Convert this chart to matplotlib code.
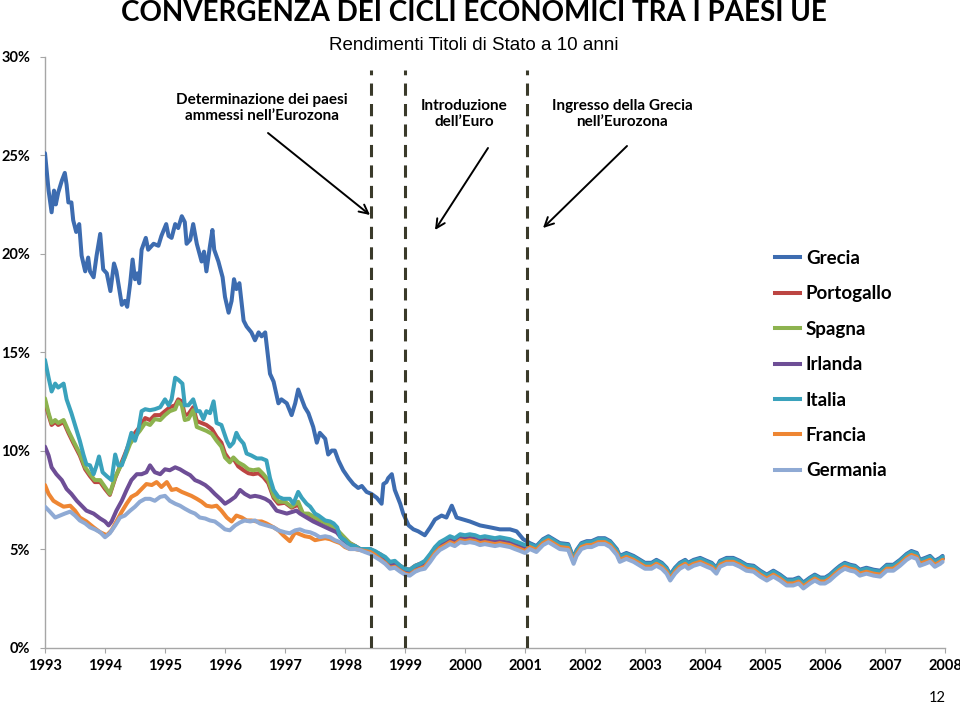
import matplotlib
matplotlib.use("Agg")
import matplotlib.pyplot as plt
from matplotlib.lines import Line2D

plt.rcParams['font.family'] = ['Lato', 'DejaVu Sans']

# ---------------- data (10-year government bond yields, %) ----------------
years = list(range(1993, 2009))
y_ticks = [0, 5, 10, 15, 20, 25, 30]
countries = ["Grecia", "Portogallo", "Spagna", "Irlanda", "Italia", "Francia", "Germania"]
colors = ["#3D6CB0", "#BC4542", "#8DB34F", "#6E4E96", "#3AA2BC", "#EE8633", "#8FAAD4"]

events = [1998.43, 1999.0, 2001.03]

# Greece until 2001
gr_t = [1993.0, 1993.06, 1993.11, 1993.15, 1993.18, 1993.22, 1993.28, 1993.33, 1993.36, 1993.39,
        1993.44, 1993.47, 1993.52, 1993.57, 1993.61, 1993.67, 1993.72, 1993.75, 1993.81, 1993.86,
        1993.92, 1993.97, 1994.03, 1994.09, 1994.15, 1994.19, 1994.28, 1994.33, 1994.37, 1994.42,
        1994.46, 1994.5, 1994.54, 1994.57, 1994.61, 1994.68, 1994.72, 1994.81, 1994.89, 1994.94,
        1995.02, 1995.06, 1995.11, 1995.17, 1995.22, 1995.28, 1995.33, 1995.36, 1995.42, 1995.47,
        1995.53, 1995.61, 1995.65, 1995.69, 1995.75, 1995.79, 1995.82, 1995.89, 1995.96, 1996.0,
        1996.06, 1996.11, 1996.15, 1996.19, 1996.24, 1996.31, 1996.36, 1996.44, 1996.5, 1996.56,
        1996.61, 1996.67, 1996.75, 1996.81, 1996.89, 1996.94, 1997.03, 1997.11, 1997.17, 1997.22,
        1997.28, 1997.33, 1997.39, 1997.47, 1997.53, 1997.58, 1997.67, 1997.72, 1997.78, 1997.83,
        1997.89, 1997.97, 1998.06, 1998.14, 1998.22, 1998.28, 1998.36, 1998.44, 1998.53, 1998.61,
        1998.64, 1998.69, 1998.72, 1998.78, 1998.83, 1998.92, 1998.97, 1999.06, 1999.14, 1999.22,
        1999.33, 1999.42, 1999.5, 1999.61, 1999.69, 1999.78, 1999.86, 1999.97, 2000.08, 2000.25,
        2000.42, 2000.58, 2000.75, 2000.86, 2000.97]
gr_v = [25.1, 23.2, 22.1, 23.2, 22.5, 23.1, 23.7, 24.1, 23.5, 22.6,
        22.6, 21.7, 21.1, 21.5, 19.9, 19.1, 19.8, 19.1, 18.8, 19.9,
        21.0, 19.2, 19.0, 18.1, 19.5, 19.1, 17.4, 17.6, 17.3, 18.5,
        19.7, 18.7, 19.0, 18.5, 20.2, 20.8, 20.2, 20.5, 20.4, 20.9,
        21.5, 20.9, 20.8, 21.5, 21.3, 21.9, 21.6, 20.5, 20.7, 21.5,
        20.5, 19.6, 20.1, 19.1, 20.4, 21.2, 20.2, 19.6, 18.8, 17.8,
        17.0, 17.6, 18.7, 18.2, 18.5, 16.6, 16.3, 16.0, 15.6, 16.0,
        15.8, 16.0, 13.9, 13.5, 12.4, 12.6, 12.4, 11.8, 12.4, 13.1,
        12.6, 12.2, 11.9, 11.2, 10.4, 10.9, 10.6, 9.8, 10.0, 10.0,
        9.5, 9.0, 8.6, 8.3, 8.1, 8.2, 7.9, 7.8, 7.6, 7.3,
        8.3, 8.4, 8.6, 8.8, 8.0, 7.3, 6.8, 6.2, 6.0, 5.9,
        5.7, 6.1, 6.5, 6.7, 6.6, 7.2, 6.6, 6.5, 6.4, 6.2,
        6.1, 6.0, 6.0, 5.9, 5.5]

it_t = [1993.0, 1993.06, 1993.11, 1993.17, 1993.22, 1993.31, 1993.36, 1993.44, 1993.53, 1993.58,
        1993.64, 1993.69, 1993.75, 1993.81, 1993.86, 1993.9, 1993.96, 1994.03, 1994.11, 1994.17,
        1994.22, 1994.28, 1994.36, 1994.44, 1994.5, 1994.56, 1994.61, 1994.67, 1994.75, 1994.83,
        1994.92, 1995.0, 1995.06, 1995.11, 1995.17, 1995.22, 1995.29, 1995.33, 1995.39, 1995.47,
        1995.53, 1995.58, 1995.64, 1995.69, 1995.75, 1995.81, 1995.86, 1995.94, 1996.03, 1996.08,
        1996.14, 1996.19, 1996.24, 1996.31, 1996.36, 1996.44, 1996.53, 1996.61, 1996.69, 1996.75,
        1996.81, 1996.89, 1996.97, 1997.08, 1997.14, 1997.22, 1997.28, 1997.36, 1997.42, 1997.5,
        1997.56, 1997.67, 1997.75, 1997.81, 1997.87, 1997.92, 1998.0, 1998.08, 1998.17, 1998.25,
        1998.33]
it_v = [14.6, 13.7, 13.0, 13.4, 13.2, 13.4, 12.6, 11.9, 11.0, 10.5,
        9.8, 9.3, 9.25, 8.8, 9.25, 9.7, 8.9, 8.7, 8.5, 9.8,
        9.25, 9.25, 10.0, 10.9, 10.5, 11.1, 12.0, 12.1, 12.05, 12.1,
        12.2, 12.6, 12.3, 12.6, 13.7, 13.6, 13.4, 12.3, 12.3, 12.6,
        12.0, 12.0, 11.6, 12.0, 11.9, 12.5, 11.4, 11.3, 10.5, 10.2,
        10.4, 10.9, 10.6, 10.35, 9.85, 9.75, 9.6, 9.6, 9.5, 8.6,
        8.0, 7.65, 7.55, 7.55, 7.3, 7.9, 7.6, 7.3, 7.15, 6.8,
        6.7, 6.45, 6.4, 6.3, 6.1, 5.6, 5.45, 5.2, 5.15, 5.0,
        5.0]

es_t = [1993.0, 1993.06, 1993.11, 1993.17, 1993.22, 1993.31, 1993.39, 1993.47, 1993.58, 1993.67,
        1993.75, 1993.83, 1993.92, 1994.0, 1994.08, 1994.17, 1994.25, 1994.33, 1994.42, 1994.5,
        1994.58, 1994.67, 1994.75, 1994.83, 1994.92, 1995.0, 1995.08, 1995.17, 1995.22, 1995.28,
        1995.33, 1995.39, 1995.47, 1995.53, 1995.61, 1995.69, 1995.78, 1995.86, 1995.94, 1996.0,
        1996.08, 1996.14, 1996.22, 1996.31, 1996.39, 1996.47, 1996.56, 1996.64, 1996.72, 1996.81,
        1996.89, 1997.0, 1997.11, 1997.22, 1997.3, 1997.39, 1997.53, 1997.69, 1997.83, 1997.94,
        1998.08, 1998.17, 1998.25, 1998.33]
es_v = [12.65, 11.9, 11.4, 11.55, 11.4, 11.55, 11.0, 10.5, 9.85, 9.15,
        8.8, 8.5, 8.5, 8.15, 7.8, 8.65, 9.15, 9.65, 10.35, 10.7,
        11.0, 11.4, 11.3, 11.6, 11.55, 11.8, 12.0, 12.1, 12.5, 12.3,
        11.55, 11.6, 12.05, 11.2, 11.1, 11.0, 10.85, 10.5, 10.2, 9.65,
        9.4, 9.65, 9.4, 9.25, 9.05, 9.0, 9.05, 8.8, 8.5, 7.7,
        7.4, 7.4, 7.15, 7.4, 6.8, 6.8, 6.55, 6.3, 6.1, 5.75,
        5.3, 5.15, 5.0, 4.95]

pt_t = es_t
pt_v = [12.5, 11.8, 11.3, 11.45, 11.3, 11.45, 10.9, 10.4, 9.75, 9.05,
        8.7, 8.4, 8.4, 8.05, 7.75, 8.6, 9.2, 9.8, 10.5, 10.9,
        11.2, 11.65, 11.55, 11.8, 11.8, 12.0, 12.2, 12.3, 12.6, 12.5,
        11.8, 11.85, 12.2, 11.5, 11.4, 11.3, 11.1, 10.7, 10.4, 9.85,
        9.5, 9.6, 9.2, 9.0, 8.85, 8.8, 8.85, 8.65, 8.35, 7.6,
        7.3, 7.35, 7.1, 7.25, 6.75, 6.75, 6.5, 6.3, 6.05, 5.7,
        5.3, 5.15, 5.0, 4.95]

ie_t = [1993.0, 1993.06, 1993.11, 1993.19, 1993.28, 1993.36, 1993.44, 1993.53, 1993.61, 1993.69,
        1993.81, 1993.92, 1994.0, 1994.06, 1994.11, 1994.19, 1994.28, 1994.36, 1994.44, 1994.53,
        1994.61, 1994.69, 1994.75, 1994.83, 1994.92, 1995.0, 1995.08, 1995.17, 1995.25, 1995.33,
        1995.42, 1995.5, 1995.58, 1995.67, 1995.75, 1995.83, 1995.92, 1996.0, 1996.08, 1996.17,
        1996.25, 1996.33, 1996.42, 1996.5, 1996.58, 1996.67, 1996.75, 1996.86, 1997.03, 1997.19,
        1997.25, 1997.36, 1997.47, 1997.61, 1997.75, 1997.86, 1997.97, 1998.08, 1998.17, 1998.25,
        1998.33]
ie_v = [10.2, 9.75, 9.15, 8.8, 8.5, 8.05, 7.8, 7.45, 7.2, 6.95,
        6.8, 6.55, 6.4, 6.2, 6.4, 6.95, 7.45, 8.0, 8.5, 8.8,
        8.8, 8.9, 9.25, 8.9, 8.8, 9.05, 9.0, 9.15, 9.05, 8.9,
        8.75, 8.5, 8.4, 8.25, 8.05, 7.8, 7.55, 7.3, 7.45, 7.65,
        8.0, 7.8, 7.65, 7.7, 7.65, 7.55, 7.4, 6.95, 6.8, 6.95,
        6.8, 6.6, 6.4, 6.2, 6.0, 5.85, 5.45, 5.2, 5.1, 5.0,
        4.95]

fr_t = [1993.0, 1993.06, 1993.14, 1993.22, 1993.31, 1993.42, 1993.5, 1993.58, 1993.69, 1993.81,
        1993.92, 1994.03, 1994.11, 1994.19, 1994.28, 1994.36, 1994.44, 1994.53, 1994.61, 1994.69,
        1994.78, 1994.86, 1994.94, 1995.03, 1995.11, 1995.19, 1995.28, 1995.36, 1995.44, 1995.53,
        1995.61, 1995.69, 1995.78, 1995.86, 1995.94, 1996.03, 1996.11, 1996.19, 1996.28, 1996.36,
        1996.44, 1996.53, 1996.61, 1996.69, 1996.81, 1996.89, 1996.97, 1997.08, 1997.17, 1997.25,
        1997.33, 1997.42, 1997.5, 1997.58, 1997.67, 1997.75, 1997.83, 1997.92, 1998.0, 1998.08,
        1998.17, 1998.25, 1998.33]
fr_v = [8.25, 7.8, 7.45, 7.3, 7.15, 7.2, 6.95, 6.6, 6.4, 6.1,
        5.85, 5.7, 5.95, 6.4, 6.9, 7.3, 7.65, 7.8, 8.05, 8.3,
        8.25, 8.4, 8.15, 8.4, 8.0, 8.05, 7.9, 7.8, 7.7, 7.55,
        7.4, 7.2, 7.15, 7.2, 6.95, 6.6, 6.4, 6.7, 6.6, 6.45,
        6.45, 6.4, 6.4, 6.3, 6.1, 5.95, 5.7, 5.4, 5.85, 5.75,
        5.65, 5.6, 5.45, 5.5, 5.55, 5.5, 5.4, 5.3, 5.1, 5.0,
        5.0, 4.95, 4.9]

de_t = [1993.0, 1993.08, 1993.17, 1993.25, 1993.33, 1993.42, 1993.5, 1993.58, 1993.67, 1993.75,
        1993.83, 1993.92, 1994.0, 1994.08, 1994.17, 1994.25, 1994.33, 1994.42, 1994.5, 1994.58,
        1994.67, 1994.75, 1994.83, 1994.92, 1995.0, 1995.08, 1995.17, 1995.25, 1995.33, 1995.42,
        1995.5, 1995.58, 1995.67, 1995.75, 1995.83, 1995.92, 1996.0, 1996.08, 1996.17, 1996.25,
        1996.33, 1996.42, 1996.5, 1996.58, 1996.69, 1996.81, 1996.89, 1997.0, 1997.08, 1997.17,
        1997.25, 1997.33, 1997.42, 1997.5, 1997.58, 1997.67, 1997.75, 1997.83, 1997.92, 1998.0,
        1998.08, 1998.17, 1998.25, 1998.33]
de_v = [7.15, 6.9, 6.6, 6.7, 6.8, 6.9, 6.7, 6.45, 6.3, 6.1,
        6.0, 5.85, 5.6, 5.8, 6.2, 6.6, 6.7, 6.95, 7.15, 7.4,
        7.55, 7.55, 7.45, 7.65, 7.7, 7.45, 7.3, 7.2, 7.05, 6.9,
        6.8, 6.6, 6.55, 6.45, 6.4, 6.2, 6.0, 5.95, 6.2, 6.35,
        6.45, 6.4, 6.45, 6.3, 6.2, 6.1, 5.95, 5.85, 5.8, 5.95,
        6.0, 5.9, 5.85, 5.75, 5.6, 5.65, 5.6, 5.45, 5.35, 5.15,
        5.0, 5.0, 4.95, 4.85]

# convergence period 1998.4 - 2001 (all except Greece)
t_conv = [1998.42, 1998.5, 1998.58, 1998.67, 1998.75, 1998.83, 1998.92, 1999.0, 1999.08, 1999.17,
          1999.25, 1999.33, 1999.42, 1999.5, 1999.58, 1999.67, 1999.75, 1999.83, 1999.92, 2000.0,
          2000.08, 2000.17, 2000.25, 2000.33, 2000.42, 2000.5, 2000.58, 2000.67, 2000.75, 2000.83,
          2000.92, 2001.0]
it_conv = [5.0, 4.9, 4.75, 4.6, 4.35, 4.4, 4.15, 4.0, 3.95, 4.15, 4.25, 4.4, 4.75, 5.1, 5.35, 5.5,
           5.65, 5.55, 5.75, 5.7, 5.75, 5.7, 5.6, 5.65, 5.6, 5.55, 5.6, 5.55, 5.5, 5.4, 5.3, 5.2]
pt_conv = [5.0, 4.85, 4.75, 4.55, 4.3, 4.35, 4.15, 4.0, 3.95, 4.15, 4.25, 4.35, 4.7, 5.05, 5.3, 5.45,
           5.6, 5.5, 5.7, 5.65, 5.7, 5.65, 5.55, 5.6, 5.55, 5.5, 5.55, 5.5, 5.45, 5.35, 5.25, 5.15]
es_conv = [4.95, 4.85, 4.7, 4.5, 4.25, 4.3, 4.1, 3.95, 3.9, 4.1, 4.2, 4.3, 4.65, 5.0, 5.25, 5.4,
           5.55, 5.45, 5.65, 5.6, 5.65, 5.6, 5.5, 5.55, 5.5, 5.45, 5.5, 5.45, 5.4, 5.3, 5.2, 5.1]
ie_conv = [4.9, 4.75, 4.6, 4.4, 4.15, 4.2, 4.0, 3.85, 3.8, 4.0, 4.1, 4.2, 4.55, 4.9, 5.15, 5.3,
           5.45, 5.35, 5.55, 5.5, 5.55, 5.5, 5.4, 5.45, 5.4, 5.35, 5.4, 5.35, 5.3, 5.2, 5.1, 5.0]
fr_conv = [4.85, 4.7, 4.5, 4.3, 4.05, 4.1, 3.9, 3.75, 3.7, 3.9, 4.0, 4.1, 4.45, 4.8, 5.05, 5.2,
           5.35, 5.25, 5.45, 5.4, 5.45, 5.4, 5.3, 5.35, 5.3, 5.25, 5.3, 5.25, 5.2, 5.1, 5.0, 4.9]
de_conv = [4.75, 4.6, 4.45, 4.25, 4.0, 4.05, 3.85, 3.7, 3.65, 3.85, 3.95, 4.0, 4.35, 4.7, 4.95, 5.1,
           5.25, 5.15, 5.35, 5.3, 5.35, 5.3, 5.2, 5.25, 5.2, 5.15, 5.2, 5.15, 5.1, 5.0, 4.9, 4.8]

# euro period 2001 - 2008 (all countries)
t_euro = [2001.08, 2001.19, 2001.3, 2001.39, 2001.47, 2001.58, 2001.72, 2001.81, 2001.86, 2001.94,
          2002.03, 2002.11, 2002.22, 2002.33, 2002.42, 2002.53, 2002.58, 2002.69, 2002.81, 2002.92,
          2003.0, 2003.11, 2003.19, 2003.28, 2003.36, 2003.42, 2003.5, 2003.58, 2003.67, 2003.72,
          2003.81, 2003.92, 2004.03, 2004.11, 2004.19, 2004.25, 2004.36, 2004.47, 2004.58, 2004.69,
          2004.81, 2004.92, 2005.03, 2005.14, 2005.25, 2005.36, 2005.47, 2005.56, 2005.64, 2005.75,
          2005.83, 2005.92, 2006.0, 2006.08, 2006.17, 2006.25, 2006.33, 2006.42, 2006.5, 2006.58,
          2006.69, 2006.81, 2006.92, 2007.03, 2007.14, 2007.25, 2007.36, 2007.44, 2007.53, 2007.58,
          2007.67, 2007.75, 2007.83, 2007.92, 2007.96]
gr_euro = [5.3, 5.15, 5.5, 5.65, 5.5, 5.3, 5.25, 4.55, 4.95, 5.3, 5.4, 5.4, 5.55, 5.55, 5.4, 5.0,
           4.65, 4.8, 4.65, 4.45, 4.3, 4.3, 4.45, 4.3, 4.05, 3.7, 4.05, 4.3, 4.45, 4.3, 4.45, 4.55,
           4.4, 4.3, 4.05, 4.4, 4.55, 4.55, 4.4, 4.2, 4.15, 3.9, 3.7, 3.9, 3.7, 3.45, 3.45, 3.55,
           3.3, 3.55, 3.7, 3.55, 3.55, 3.7, 3.95, 4.15, 4.3, 4.2, 4.15, 3.95, 4.05, 3.95, 3.9, 4.2,
           4.2, 4.45, 4.75, 4.9, 4.8, 4.45, 4.55, 4.65, 4.4, 4.55, 4.65]
it_euro = [5.25, 5.1, 5.45, 5.6, 5.45, 5.25, 5.2, 4.5, 4.9, 5.25, 5.35, 5.35, 5.5, 5.5, 5.35, 4.95,
           4.6, 4.75, 4.6, 4.4, 4.25, 4.25, 4.4, 4.25, 4.0, 3.65, 4.0, 4.25, 4.4, 4.25, 4.4, 4.5,
           4.35, 4.25, 4.0, 4.35, 4.5, 4.5, 4.35, 4.15, 4.1, 3.85, 3.65, 3.85, 3.65, 3.4, 3.4, 3.5,
           3.25, 3.5, 3.65, 3.5, 3.5, 3.65, 3.9, 4.1, 4.25, 4.15, 4.1, 3.9, 4.0, 3.9, 3.85, 4.15,
           4.15, 4.4, 4.7, 4.85, 4.75, 4.4, 4.5, 4.6, 4.35, 4.5, 4.6]
pt_euro = [5.2, 5.05, 5.4, 5.55, 5.4, 5.2, 5.15, 4.45, 4.85, 5.2, 5.3, 5.3, 5.45, 5.45, 5.3, 4.9,
           4.55, 4.7, 4.55, 4.35, 4.2, 4.2, 4.35, 4.2, 3.95, 3.6, 3.95, 4.2, 4.35, 4.2, 4.35, 4.45,
           4.3, 4.2, 3.95, 4.3, 4.45, 4.45, 4.3, 4.1, 4.05, 3.8, 3.6, 3.8, 3.6, 3.35, 3.35, 3.45,
           3.2, 3.45, 3.6, 3.45, 3.45, 3.6, 3.85, 4.05, 4.2, 4.1, 4.05, 3.85, 3.95, 3.85, 3.8, 4.1,
           4.1, 4.35, 4.65, 4.8, 4.7, 4.35, 4.45, 4.55, 4.3, 4.45, 4.55]
es_euro = [5.15, 5.0, 5.35, 5.5, 5.35, 5.15, 5.1, 4.4, 4.8, 5.15, 5.25, 5.25, 5.4, 5.4, 5.25, 4.85,
           4.5, 4.65, 4.5, 4.3, 4.15, 4.15, 4.3, 4.15, 3.9, 3.55, 3.9, 4.15, 4.3, 4.15, 4.3, 4.4,
           4.25, 4.15, 3.9, 4.25, 4.4, 4.4, 4.25, 4.05, 4.0, 3.75, 3.55, 3.75, 3.55, 3.3, 3.3, 3.4,
           3.15, 3.4, 3.55, 3.4, 3.4, 3.55, 3.8, 4.0, 4.15, 4.05, 4.0, 3.8, 3.9, 3.8, 3.75, 4.05,
           4.05, 4.3, 4.6, 4.75, 4.65, 4.3, 4.4, 4.5, 4.25, 4.4, 4.5]
ie_euro = [5.1, 4.95, 5.3, 5.5, 5.35, 5.15, 5.05, 4.4, 4.75, 5.1, 5.25, 5.2, 5.35, 5.4, 5.25, 4.8,
           4.45, 4.6, 4.5, 4.3, 4.1, 4.15, 4.3, 4.1, 3.9, 3.55, 3.85, 4.15, 4.3, 4.1, 4.3, 4.4,
           4.2, 4.15, 3.9, 4.25, 4.4, 4.35, 4.25, 4.05, 3.95, 3.75, 3.55, 3.7, 3.55, 3.3, 3.3, 3.4,
           3.15, 3.35, 3.55, 3.4, 3.35, 3.55, 3.8, 4.0, 4.15, 4.05, 4.0, 3.8, 3.9, 3.8, 3.75, 4.05,
           4.05, 4.3, 4.6, 4.75, 4.65, 4.3, 4.4, 4.5, 4.25, 4.4, 4.5]
fr_euro = [5.1, 4.95, 5.3, 5.45, 5.3, 5.1, 5.05, 4.35, 4.75, 5.1, 5.2, 5.2, 5.35, 5.35, 5.2, 4.8,
           4.45, 4.6, 4.45, 4.25, 4.1, 4.1, 4.25, 4.1, 3.85, 3.5, 3.85, 4.1, 4.25, 4.1, 4.25, 4.35,
           4.2, 4.1, 3.85, 4.2, 4.35, 4.35, 4.2, 4.0, 3.95, 3.7, 3.5, 3.7, 3.5, 3.25, 3.25, 3.35,
           3.1, 3.35, 3.5, 3.35, 3.35, 3.5, 3.75, 3.95, 4.1, 4.0, 3.95, 3.75, 3.85, 3.75, 3.7, 4.0,
           4.0, 4.25, 4.55, 4.7, 4.6, 4.25, 4.35, 4.45, 4.2, 4.35, 4.45]
de_euro = [5.0, 4.85, 5.2, 5.35, 5.2, 5.0, 4.95, 4.25, 4.65, 5.0, 5.1, 5.1, 5.25, 5.25, 5.1, 4.7,
           4.35, 4.5, 4.35, 4.15, 4.0, 4.0, 4.15, 4.0, 3.75, 3.4, 3.75, 4.0, 4.15, 4.0, 4.15, 4.25,
           4.1, 4.0, 3.75, 4.1, 4.25, 4.25, 4.1, 3.9, 3.85, 3.6, 3.4, 3.6, 3.4, 3.15, 3.15, 3.25,
           3.0, 3.25, 3.4, 3.25, 3.25, 3.4, 3.65, 3.85, 4.0, 3.9, 3.85, 3.65, 3.75, 3.65, 3.6, 3.9,
           3.9, 4.15, 4.45, 4.6, 4.5, 4.15, 4.25, 4.35, 4.1, 4.25, 4.35]

series = {
    "Grecia": (gr_t + t_euro, gr_v + gr_euro),
    "Portogallo": (pt_t + t_conv + t_euro, pt_v + pt_conv + pt_euro),
    "Spagna": (es_t + t_conv + t_euro, es_v + es_conv + es_euro),
    "Irlanda": (ie_t + t_conv + t_euro, ie_v + ie_conv + ie_euro),
    "Italia": (it_t + t_conv + t_euro, it_v + it_conv + it_euro),
    "Francia": (fr_t + t_conv + t_euro, fr_v + fr_conv + fr_euro),
    "Germania": (de_t + t_conv + t_euro, de_v + de_conv + de_euro),
}

# ---------------- figure ----------------
W, H = 960, 708
fig = plt.figure(figsize=(W / 100, H / 100), dpi=100)
x0, x1 = 45, 945
y0, y1 = 647.5, 56.7
ax = fig.add_axes([x0 / W, 1 - y0 / H, (x1 - x0) / W, (y0 - y1) / H])
ax.set_xlim(1993, 2008)
ax.set_ylim(0, 30)

for name, col in zip(countries, colors):
    t, v = series[name]
    ax.plot(t, v, color=col, lw=2.9, solid_joinstyle="round", solid_capstyle="round",
            label=name, zorder=3)

for e in events:
    ax.plot([e, e], [0, 29.3], color="#3a3a2a", lw=2.2, ls=(0, (4, 2.7)), zorder=4)

# axes styling
for s in ["top", "right"]:
    ax.spines[s].set_visible(False)
for s in ["left", "bottom"]:
    ax.spines[s].set_color("#a6a6a6")
    ax.spines[s].set_linewidth(1.0)
ax.set_xticks(years)
ax.set_xticklabels([str(y) for y in years], fontsize=10.5, fontweight="bold")
ax.set_yticks(y_ticks)
ax.set_yticklabels([f"{v}%" for v in y_ticks], fontsize=10.5, fontweight="bold")
ax.tick_params(axis="x", length=3.6, color="#a6a6a6", pad=5)
ax.tick_params(axis="y", length=3.6, color="#a6a6a6", pad=7)

# titles
fig.text(474 / W, 1 - 21 / H, "CONVERGENZA DEI CICLI ECONOMICI TRA I PAESI UE",
         ha="center", va="baseline", fontsize=20, fontweight="bold")
fig.text(474 / W, 1 - 45 / H, "Rendimenti Titoli di Stato a 10 anni",
         ha="center", va="center", fontsize=13.5, family=["Liberation Sans", "DejaVu Sans"])

# annotations
def px(x, y):
    return (1993 + (x - x0) / 60.0, (y0 - y) / ((y0 - y1) / 30.0))

notes = [
    ("Determinazione dei paesi\nammessi nell\u2019Eurozona", (262, 108), (268, 133), (370, 215)),
    ("Introduzione\ndell\u2019Euro", (464, 114), (488, 148), (435, 230)),
    ("Ingresso della Grecia\nnell\u2019Eurozona", (622, 114), (627, 146), (543, 228)),
]
for txt, tp, tail, head in notes:
    ax.text(*px(*tp), txt, ha="center", va="center", fontsize=11, fontweight="bold",
            linespacing=1.2)
    ax.annotate("", xy=px(*head), xytext=px(*tail),
                arrowprops=dict(arrowstyle="->", color="black", lw=1.4,
                                mutation_scale=16, shrinkA=0, shrinkB=0))

# legend
handles = [Line2D([0], [0], color=c, lw=2.9) for c in colors]
leg = ax.legend(handles, countries, loc="upper left",
                bbox_to_anchor=(775 / W, 1 - 250 / H), bbox_transform=fig.transFigure,
                frameon=False, borderpad=0, borderaxespad=0,
                handlelength=1.33, handletextpad=0.32,
                labelspacing=0.98, prop={"size": 13.5, "weight": "bold"})

fig.text(937 / W, 1 - 698 / H, "12", ha="center", va="center", fontsize=10.5)

fig.savefig("out.png", dpi=100)
